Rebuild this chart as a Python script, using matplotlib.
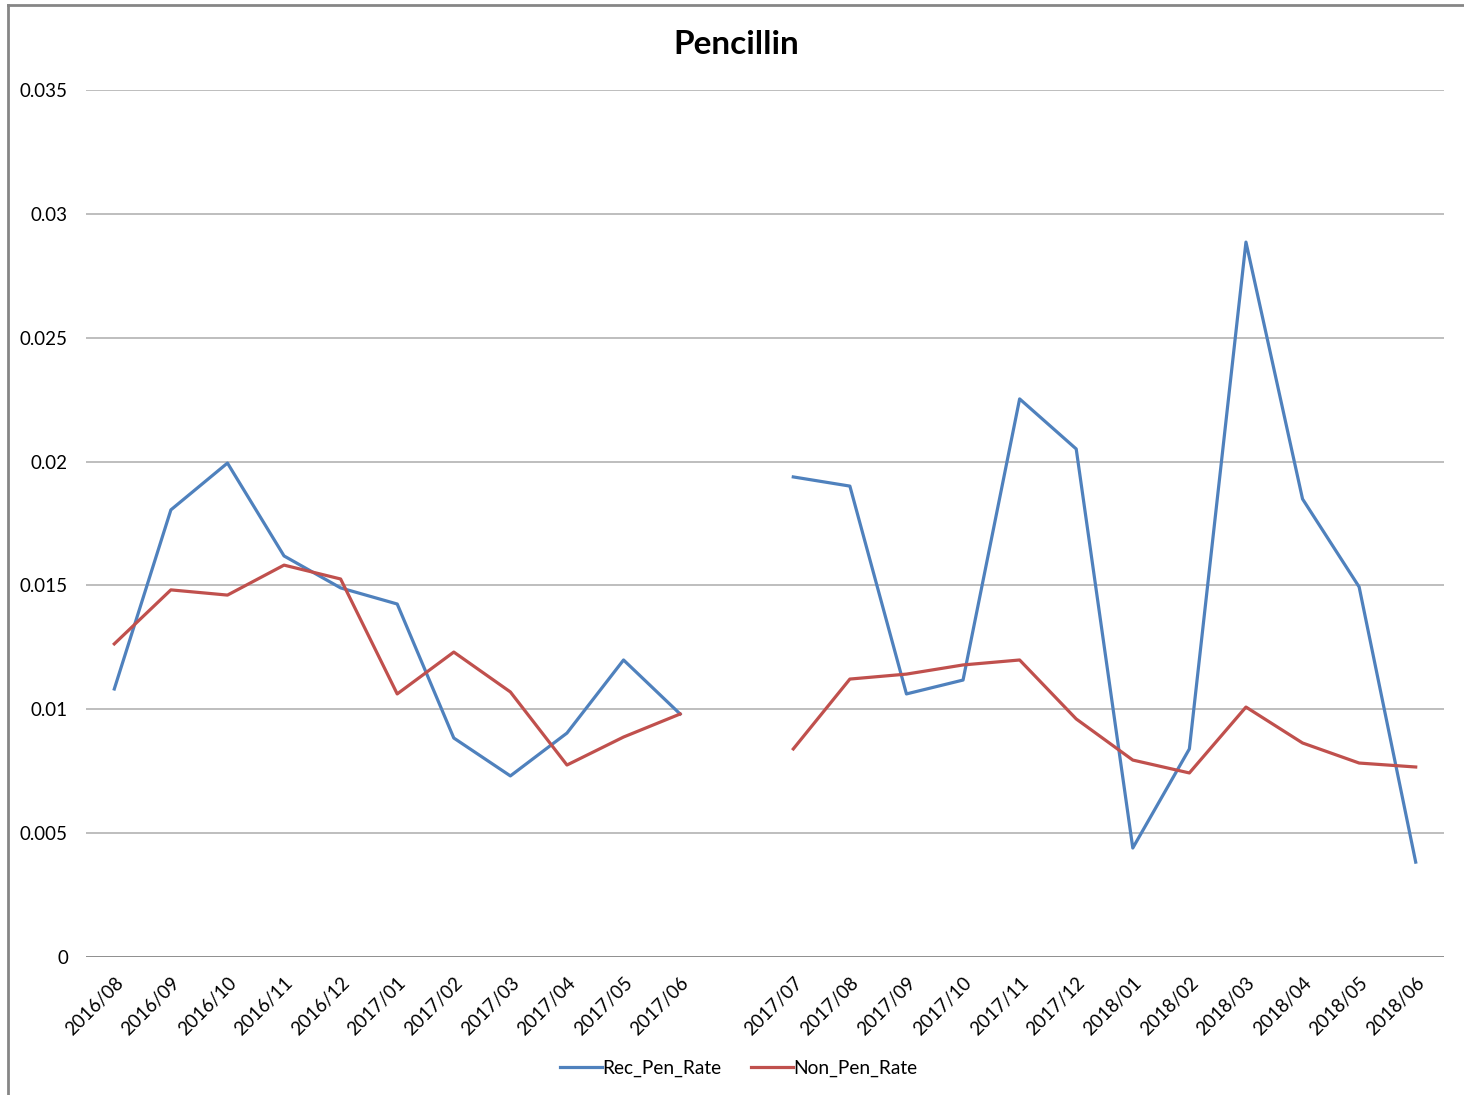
import matplotlib.pyplot as plt
import numpy as np
from matplotlib.lines import Line2D

plt.rcParams["font.family"] = ["Lato", "DejaVu Sans"]

months = [
    "2016/08", "2016/09", "2016/10", "2016/11", "2016/12", "2017/01",
    "2017/02", "2017/03", "2017/04", "2017/05", "2017/06", "",
    "2017/07", "2017/08", "2017/09", "2017/10", "2017/11", "2017/12",
    "2018/01", "2018/02", "2018/03", "2018/04", "2018/05", "2018/06",
]
rec_pen_rate = [
    0.01082, 0.01805, 0.01994, 0.01619, 0.0149, 0.01425,
    0.00884, 0.00731, 0.00904, 0.01199, 0.00981, np.nan,
    0.01938, 0.01901, 0.01062, 0.01118, 0.02253, 0.02051,
    0.0044, 0.0084, 0.02886, 0.01849, 0.01494, 0.00383,
]
non_pen_rate = [
    0.01264, 0.01482, 0.01461, 0.01582, 0.01526, 0.01062,
    0.01231, 0.0107, 0.00775, 0.00888, 0.00981, np.nan,
    0.0084, 0.01122, 0.01142, 0.01179, 0.01199, 0.00961,
    0.00795, 0.00743, 0.01009, 0.00864, 0.00783, 0.00767,
]
y_ticks = [0, 0.005, 0.01, 0.015, 0.02, 0.025, 0.03, 0.035]
y_tick_labels = ["0", "0.005", "0.01", "0.015", "0.02", "0.025", "0.03", "0.035"]

fig = plt.figure(figsize=(14.64, 10.95), dpi=100)
ax = fig.add_axes([86 / 1464, 1 - 957 / 1095, (1444 - 86) / 1464, 867 / 1095])

x = np.arange(len(months))
ax.plot(x, rec_pen_rate, color="#4F81BD", lw=2.3, label="Rec_Pen_Rate")
ax.plot(x, non_pen_rate, color="#C0504D", lw=2.3, label="Non_Pen_Rate")

ax.set_xlim(-0.5, len(months) - 0.5)
ax.set_ylim(0, 0.035)
ax.set_yticks(y_ticks)
ax.set_yticklabels(y_tick_labels, fontsize=13.5)
ax.set_xticks(x)
ax.set_xticklabels(months, rotation=45, ha="right", rotation_mode="anchor", fontsize=13.5)
ax.tick_params(axis="both", length=0, colors="#000000")
ax.tick_params(axis="y", pad=13)
ax.tick_params(axis="x", pad=12)
for s in ax.spines.values():
    s.set_visible(False)
for t in y_ticks[1:]:
    ax.axhline(t, color="#B3B3B3", lw=1.2, zorder=0)
ax.axhline(0, color="#868686", lw=1.3, zorder=0)

fig.text(0.503, 1 - 44 / 1095, "Pencillin", ha="center", va="center",
         fontsize=24, fontweight="bold")

fig.legend(loc="center", bbox_to_anchor=(739 / 1464, 1 - 1068 / 1095), ncol=2,
           frameon=False, fontsize=13.8, handlelength=2.15, handletextpad=0.05,
           columnspacing=1.55)

# outer frame of the chart area (only left and top edges visible)
frame_x = 8 / 1464
frame_y = 1 - 5 / 1095
fig.add_artist(Line2D([frame_x, frame_x], [0, frame_y], transform=fig.transFigure,
                      color="#868686", lw=2))
fig.add_artist(Line2D([frame_x, 1], [frame_y, frame_y], transform=fig.transFigure,
                      color="#868686", lw=2))

fig.savefig("out.png", dpi=100)
